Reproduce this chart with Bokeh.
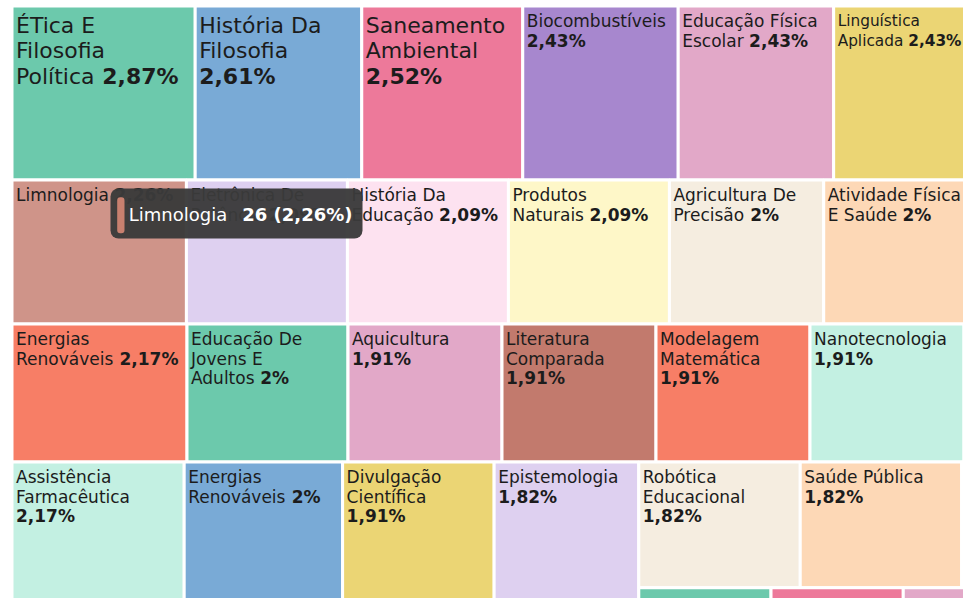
from bokeh.plotting import figure
from bokeh.models import Range1d, ColumnDataSource, BoxAnnotation
from bokeh.core.properties import value
from bokeh.embed import file_html
from bokeh.resources import INLINE

# ---------------- data ----------------
TOTAL = 1151  # all records of the treemap (most tiles lie outside this crop)

row1_names = ["ÉTica E Filosofia Política", "História Da Filosofia", "Saneamento Ambiental",
              "Biocombustíveis", "Educação Física Escolar", "Linguística Aplicada"]
row1_counts = [33, 30, 29, 28, 28, 28]
row1_total = 232

row2_names = ["Limnologia", "Eletrônica De Potência", "História Da Educação",
              "Produtos Naturais", "Agricultura De Precisão", "Atividade Física E Saúde"]
row2_counts = [26, 24, 24, 24, 23, 23]
row2_total = 192

row3_names = ["Energias Renováveis", "Educação De Jovens E Adultos", "Aquicultura",
              "Literatura Comparada", "Modelagem Matemática", "Nanotecnologia", "Gestão Ambiental"]
row3_counts = [25, 23, 22, 22, 22, 22, 22]
row3_total = 184

row4_names = ["Assistência Farmacêutica", "Energias Renováveis", "Divulgação Científica", "Epistemologia"]
row4_counts = [25, 23, 22, 21]
row4_total = 187

row4a_names = ["Robótica Educacional", "Saúde Pública", "Sistemas Distribuídos"]
row4a_counts = [21, 21, 21]
row4a_total = 86

row4b_names = ["Sensoriamento Remoto", "Farmacologia", "Tecnologia Assistiva"]
row4b_counts = [2, 2, 2]
row4b_total = 10

hover_name = "Limnologia"

# ---------------- style ----------------
row1_colors = ["#6cc9ac", "#79aad6", "#ed799a", "#a787ce", "#e2a8c8", "#ebd574"]
row2_colors = ["#cf9489", "#ded0f0", "#fde2f0", "#fef7c8", "#f5ede0", "#fdd8b6"]
row3_colors = ["#f77e66", "#6cc9ac", "#e2a8c8", "#c27a6d", "#f77e66", "#c3f0e2", "#dfe6ee"]
row4_colors = ["#c3f0e2", "#79aad6", "#ebd574", "#ded0f0"]
row4a_colors = ["#f5ede0", "#fdd8b6", "#e8c6c4"]
row4b_colors = ["#6cc9ac", "#ed799a", "#e2a8c8"]
hover_marker_color = "#c8806f"
TEXT_COLOR = "#1c1c1c"
FONT = "DejaVu Sans"
TEXT_DY = -8.5   # baseline correction of the svg text renderer

# view window and treemap geometry (screen pixels of the figure)
X0, X1, Y0, Y1 = 0, 963, 0, 598
TM_X0, TM_Y0 = 11.5, 5.5
TM_W = 1288.0
TM_H = 863.25

# ---------------- text metrics ----------------
_ACC = {"á": "a", "à": "a", "â": "a", "ã": "a", "é": "e", "ê": "e", "í": "i", "ó": "o",
        "ô": "o", "õ": "o", "ú": "u", "ç": "c", "É": "E"}
_lo = "abcdefghijklmnopqrstuvwxyz"
_up = "ABCDEFGHIJKLMNOPQRSTUVWXYZ"
ARIAL = dict(zip(_lo, [556, 556, 500, 556, 556, 278, 556, 556, 222, 222, 500, 222, 833, 556, 556,
                       556, 556, 333, 500, 278, 556, 500, 722, 500, 500, 500]))
ARIAL.update(zip(_up, [667, 667, 722, 722, 667, 611, 778, 722, 278, 500, 667, 556, 833, 722, 778,
                       667, 778, 722, 667, 611, 722, 667, 944, 667, 667, 611]))
ARIAL.update({" ": 278, ",": 278, "%": 889, "(": 333, ")": 333})
ARIAL.update({d: 556 for d in "0123456789"})
DEJA = dict(zip(_lo, [613, 635, 550, 635, 615, 352, 635, 634, 278, 278, 579, 278, 974, 634, 612,
                      635, 635, 411, 521, 392, 634, 592, 818, 592, 592, 525]))
DEJA.update(zip(_up, [684, 686, 698, 770, 632, 575, 775, 752, 295, 295, 656, 557, 863, 748, 787,
                      603, 787, 695, 635, 611, 732, 684, 989, 685, 611, 685]))
DEJA.update({" ": 318, ",": 318, "%": 950, "(": 390, ")": 390})
DEJA.update({d: 636 for d in "0123456789"})
DEJA_B = {" ": 348, ",": 380, "%": 1002, "(": 457, ")": 457}
DEJA_B.update({d: 696 for d in "0123456789"})


def width(s, table):
    return sum(table.get(_ACC.get(ch, ch), 600) for ch in s) / 1000.0


def fmt_pct(c):
    s = f"{c / TOTAL * 100:.2f}".rstrip("0").rstrip(".")
    return s.replace(".", ",") + "%"


# ---------------- treemap layout ----------------
cells = []


def lay_strip(names, counts, colors, total, x0, y0, w, h):
    x = x0
    for n, c, col in zip(names, counts, colors):
        cw = c / total * w
        cells.append(dict(name=n, count=c, color=col, l=x, r=x + cw, t=y0, b=y0 + h))
        x += cw
    return x


y = TM_Y0
for names, counts, colors, total in [(row1_names, row1_counts, row1_colors, row1_total),
                                     (row2_names, row2_counts, row2_colors, row2_total),
                                     (row3_names, row3_counts, row3_colors, row3_total)]:
    h = total / TOTAL * TM_H
    lay_strip(names, counts, colors, total, TM_X0, y, TM_W, h)
    y += h
h4 = row4_total / TOTAL * TM_H
xb = lay_strip(row4_names, row4_counts, row4_colors, row4_total, TM_X0, y, TM_W, h4)
wb = (row4a_total + row4b_total) / row4_total * TM_W
ha = row4a_total / (row4a_total + row4b_total) * h4
lay_strip(row4a_names, row4a_counts, row4a_colors, row4a_total, xb, y, wb, ha)
lay_strip(row4b_names, row4b_counts, row4b_colors, row4b_total, xb, y + ha, wb, h4 - ha)

tiles = ColumnDataSource(dict(left=[c["l"] for c in cells], right=[c["r"] for c in cells],
                              top=[c["t"] for c in cells], bottom=[c["b"] for c in cells],
                              color=[c["color"] for c in cells]))

# ---------------- labels (word wrap like the original) ----------------
reg = dict(x=[], y=[], text=[], size=[])
bold = dict(x=[], y=[], text=[], size=[])
for c in cells:
    big = c["count"] >= 29
    fs = 22.0 if big else 17.0
    eff = 25.3 if big else 19.3          # width used by the original layout for wrapping
    lh = 25.5 if big else 19.7
    first = 27.8 if big else 23.5
    avail = (c["r"] - c["l"]) - 12.3
    tx = c["l"] + 4.0
    by = c["t"] + first + TEXT_DY
    if tx > X1 - 20 or by - 4 > Y1:
        continue
    tokens = [(w, False) for w in c["name"].split()] + [(fmt_pct(c["count"]), True)]
    lines, cur = [[]], 0.0
    for t, b in tokens:
        tw = width(t, ARIAL) * eff
        sp = width(" ", ARIAL) * eff if lines[-1] else 0.0
        if lines[-1] and cur + sp + tw > avail:
            lines.append([(t, b)])
            cur = tw
        else:
            lines[-1].append((t, b))
            cur += sp + tw
    parts = []
    for ln in lines:
        rtxt = " ".join(t for t, b in ln if not b)
        btxt = " ".join(t for t, b in ln if b)
        parts.append((rtxt, btxt))
    # keep the label inside the visible window (tile continues past the crop)
    maxw = max(width(r + (" " if r and b else ""), DEJA) + width(b, DEJA_B) for r, b in parts) * fs
    if tx + maxw > X1 - 2:
        fs = fs * (X1 - 2 - tx) / maxw
    for i, (rtxt, btxt) in enumerate(parts):
        yy = by + i * lh
        if rtxt:
            reg["x"].append(tx); reg["y"].append(yy); reg["text"].append(rtxt); reg["size"].append(f"{fs:.2f}px")
        if btxt:
            bx = tx + (width(rtxt + " ", DEJA) * fs if rtxt else 0.0)
            bold["x"].append(bx); bold["y"].append(yy); bold["text"].append(btxt); bold["size"].append(f"{fs:.2f}px")

# ---------------- figure ----------------
p = figure(width=X1 - X0, height=Y1 - Y0, x_range=Range1d(X0, X1), y_range=Range1d(Y1, Y0),
           x_axis_type=None, y_axis_type=None, toolbar_location=None, output_backend="svg",
           min_border=0, outline_line_color=None,
           background_fill_color="white", border_fill_color="white")

p.quad(left="left", right="right", top="top", bottom="bottom", source=tiles,
       fill_color="color", line_color="white", line_width=3)

p.text(x="x", y="y", text="text", source=ColumnDataSource(reg), text_font=value(FONT),
       text_font_size="size", text_color=TEXT_COLOR, text_baseline="alphabetic", text_align="left")
p.text(x="x", y="y", text="text", source=ColumnDataSource(bold), text_font=value(FONT),
       text_font_size="size", text_font_style="bold", text_color=TEXT_COLOR,
       text_baseline="alphabetic", text_align="left")

# ---------------- tooltip of the hovered tile ----------------
hv = next(c for c in cells if c["name"] == hover_name)
tt_l = hv["l"] + 98.5
tt_t = hv["t"] + 8.5
tfs = 18
name_w = width(hover_name, DEJA) * tfs
val_txt = f"{hv['count']} ({fmt_pct(hv['count'])})"
val_w = width(val_txt, DEJA_B) * tfs
mk_l = tt_l + 6.7
mk_r = mk_l + 7.3
name_x = mk_r + 4.3
val_x = name_x + name_w + 15
tt_r = val_x + val_w + 10
p.add_layout(BoxAnnotation(left=tt_l, right=tt_r, top=tt_t, bottom=tt_t + 50,
                           fill_color="#3a3a3a", fill_alpha=0.96, line_color=None, border_radius=8))
p.add_layout(BoxAnnotation(left=mk_l, right=mk_r, top=tt_t + 8.7, bottom=tt_t + 44.7,
                           fill_color=hover_marker_color, fill_alpha=1, line_color=None, border_radius=3))
p.text(x=[name_x], y=[tt_t + 34.7 + TEXT_DY], text=[hover_name], text_font=value(FONT),
       text_font_size="18px", text_color="white", text_baseline="alphabetic", level="overlay")
p.text(x=[val_x], y=[tt_t + 34.7 + TEXT_DY], text=[val_txt], text_font=value(FONT),
       text_font_size="18px", text_font_style="bold", text_color="white",
       text_baseline="alphabetic", level="overlay")

open("out.html", "w").write(file_html(p, INLINE))
